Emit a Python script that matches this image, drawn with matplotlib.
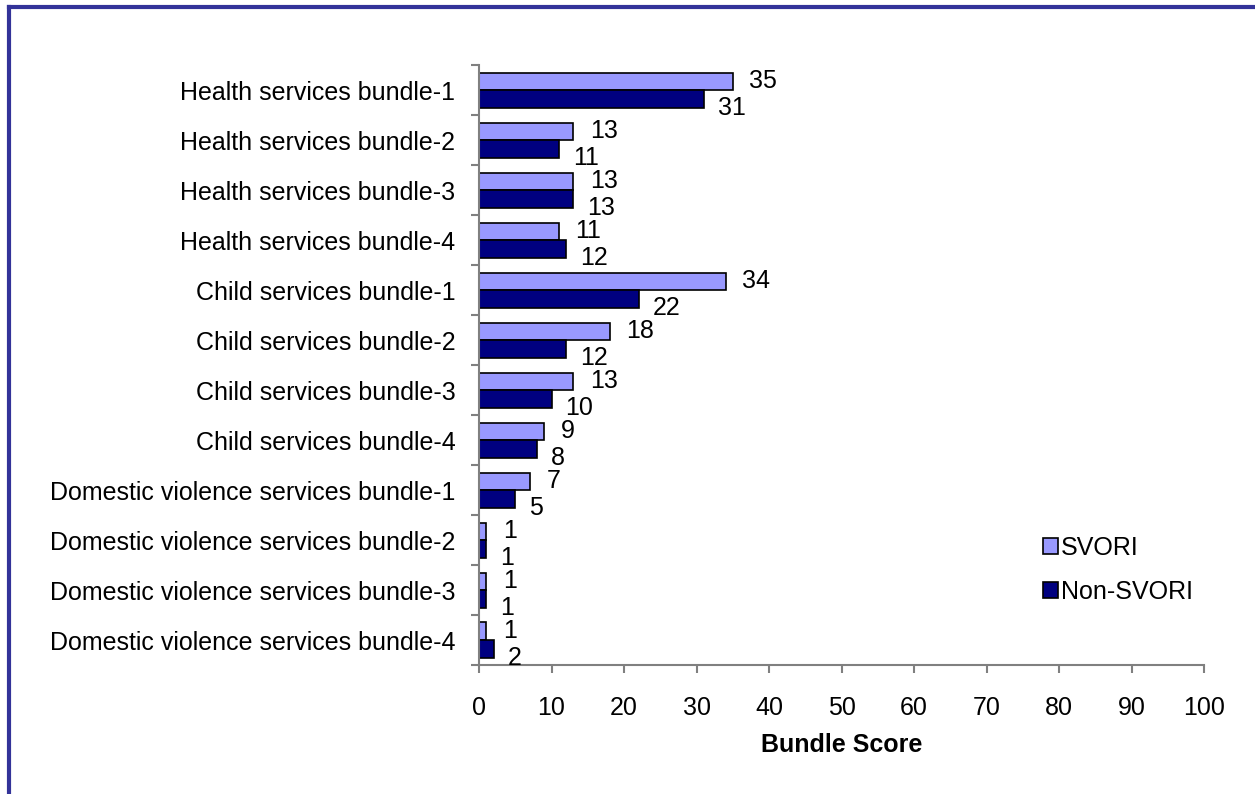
import matplotlib.pyplot as plt
import numpy as np
from matplotlib.lines import Line2D

categories = [
    'Health services bundle-1', 'Health services bundle-2',
    'Health services bundle-3', 'Health services bundle-4',
    'Child services bundle-1', 'Child services bundle-2',
    'Child services bundle-3', 'Child services bundle-4',
    'Domestic violence services bundle-1', 'Domestic violence services bundle-2',
    'Domestic violence services bundle-3', 'Domestic violence services bundle-4',
]
svori = [35, 13, 13, 11, 34, 18, 13, 9, 7, 1, 1, 1]
non_svori = [31, 11, 13, 12, 22, 12, 10, 8, 5, 1, 1, 2]
x_ticks = list(range(0, 101, 10))

plt.rcParams['font.family'] = ['Liberation Sans', 'DejaVu Sans']
FS = 18

fig = plt.figure(figsize=(12.55, 7.94), dpi=100)
ax = fig.add_axes([479 / 1255, 1 - 665 / 794, (1204 - 479) / 1255, (665 - 65) / 794])

y = np.arange(len(categories))
h = 0.35
gray = '#808080'

ax.barh(y - h / 2, svori, height=h, color='#9999FF', edgecolor='black', linewidth=1.2, label='SVORI')
ax.barh(y + h / 2, non_svori, height=h, color='#000080', edgecolor='black', linewidth=1.2, label='Non-SVORI')

for yi, v in zip(y, svori):
    ax.annotate(str(v), (v, yi - h / 2), xytext=(12, 0), textcoords='offset points',
                ha='left', va='center', fontsize=FS)
for yi, v in zip(y, non_svori):
    ax.annotate(str(v), (v, yi + h / 2), xytext=(10, -6.5), textcoords='offset points',
                ha='left', va='center', fontsize=FS)

ax.set_xlim(0, 100)
ax.set_ylim(len(categories) - 0.5, -0.5)
ax.set_xticks(x_ticks)
ax.tick_params(axis='x', colors=gray, labelcolor='black', labelsize=FS, length=6, width=1.5, pad=16)

ax.set_yticks(y)
ax.set_yticklabels(categories)
ax.set_yticks(np.arange(-0.5, len(categories), 1), minor=True)
ax.tick_params(axis='y', which='major', length=0, labelsize=FS, pad=17)
ax.tick_params(axis='y', which='minor', length=6, width=1.5, color=gray)

for s in ['top', 'right']:
    ax.spines[s].set_visible(False)
for s in ['left', 'bottom']:
    ax.spines[s].set_color(gray)
    ax.spines[s].set_linewidth(1.5)

ax.set_xlabel('Bundle Score', fontsize=FS, fontweight='bold', labelpad=10)

ax.legend(loc='center left', bbox_to_anchor=(1020 / 1255, 1 - 570 / 794),
          bbox_transform=fig.transFigure, frameon=False, fontsize=FS,
          handlelength=0.6, handleheight=0.6, handletextpad=0.15, labelspacing=0.8)

border = '#333399'
fig.add_artist(Line2D([9 / 1255, 9 / 1255], [0, 1 - 7 / 794], color=border, linewidth=3, transform=fig.transFigure))
fig.add_artist(Line2D([9 / 1255, 1], [1 - 7 / 794, 1 - 7 / 794], color=border, linewidth=3, transform=fig.transFigure))

fig.savefig('out.png', dpi=100)
